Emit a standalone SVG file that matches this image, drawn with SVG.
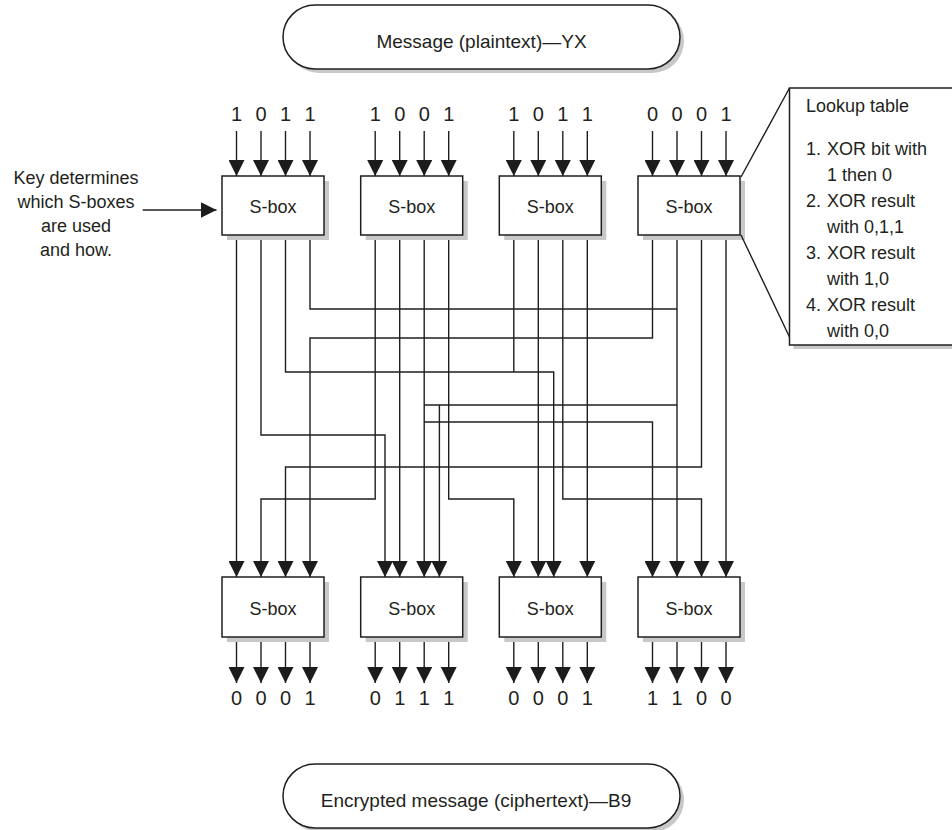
<svg xmlns="http://www.w3.org/2000/svg" width="952" height="830" viewBox="0 0 952 830">
<defs>
<marker id="ah" viewBox="0 0 16 16" markerWidth="16" markerHeight="16" refX="16" refY="8" orient="auto" markerUnits="userSpaceOnUse"><path d="M0,0 L16,8 L0,16 Z" fill="#1c1c1c"/></marker>
</defs>
<style>
.w{fill:none;stroke:#1f1f1f;stroke-width:1.4}
.a{marker-end:url(#ah)}
.box{fill:#fff;stroke:#1f1f1f;stroke-width:1.5}
.sh{fill:#c8c8c8}
.t{font-family:"Liberation Sans",Arial,sans-serif;font-size:18px;fill:#231f20}
.p{font-size:19px}
.m{text-anchor:middle}
.bit{font-family:"Liberation Sans",Arial,sans-serif;font-size:20px;fill:#231f20;text-anchor:middle}
</style>
<rect width="952" height="830" fill="#fff"/>

<g id="connectors">
<!-- input arrows -->
<path class="w a" d="M236.5,131V176"/><path class="w a" d="M261,131V176"/><path class="w a" d="M285.5,131V176"/><path class="w a" d="M310,131V176"/>
<path class="w a" d="M375.2,131V176"/><path class="w a" d="M399.7,131V176"/><path class="w a" d="M424.2,131V176"/><path class="w a" d="M448.7,131V176"/>
<path class="w a" d="M513.8,131V176"/><path class="w a" d="M538.3,131V176"/><path class="w a" d="M562.8,131V176"/><path class="w a" d="M587.3,131V176"/>
<path class="w a" d="M652.5,131V176"/><path class="w a" d="M677,131V176"/><path class="w a" d="M701.5,131V176"/><path class="w a" d="M726,131V176"/>
<!-- permutation wiring -->
<path class="w a" d="M236.5,235V577"/>
<path class="w a" d="M261,235V435H385V577"/>
<path class="w a" d="M285.5,235V372H553.7V577"/>
<path class="w" d="M310,235V309H677"/>
<path class="w a" d="M375.2,235V499H261V577"/>
<path class="w a" d="M399.7,235V577"/>
<path class="w a" d="M424.2,235V577"/>
<path class="w a" d="M448.7,235V499H513.8V577"/>
<path class="w" d="M513.8,235V372"/>
<path class="w a" d="M538.3,235V577"/>
<path class="w a" d="M562.8,235V499H701.5V577"/>
<path class="w a" d="M587.3,235V577"/>
<path class="w a" d="M652.5,235V338H310V577"/>
<path class="w a" d="M677,235V577"/>
<path class="w a" d="M701.5,235V467H285.5V577"/>
<path class="w a" d="M726,235V577"/>
<path class="w" d="M677,405H424.2"/>
<path class="w a" d="M439.4,405V577"/>
<path class="w a" d="M424.2,422H652.5V577"/>
<!-- output arrows -->
<path class="w a" d="M236.5,637V683"/><path class="w a" d="M261,637V683"/><path class="w a" d="M285.5,637V683"/><path class="w a" d="M310,637V683"/>
<path class="w a" d="M375.2,637V683"/><path class="w a" d="M399.7,637V683"/><path class="w a" d="M424.2,637V683"/><path class="w a" d="M448.7,637V683"/>
<path class="w a" d="M513.8,637V683"/><path class="w a" d="M538.3,637V683"/><path class="w a" d="M562.8,637V683"/><path class="w a" d="M587.3,637V683"/>
<path class="w a" d="M652.5,637V683"/><path class="w a" d="M677,637V683"/><path class="w a" d="M701.5,637V683"/><path class="w a" d="M726,637V683"/>
<!-- key arrow -->
<path class="w a" d="M142.7,210H216.5"/>
</g>

<g id="plaintext">
<rect class="sh" x="287" y="9" width="397" height="64" rx="32"/>
<rect class="box" x="283" y="5" width="397" height="64" rx="32"/>
<text class="t p m" x="481.5" y="48">Message (plaintext)—YX</text>
</g>

<g id="ciphertext">
<rect class="sh" x="287" y="768" width="397" height="64" rx="32"/>
<rect class="box" x="283" y="764" width="397" height="64" rx="32"/>
<text class="t p m" x="476" y="807">Encrypted message (ciphertext)—B9</text>
</g>

<g id="input-bits">
<text class="bit" x="236.5" y="120.5">1</text><text class="bit" x="261" y="120.5">0</text><text class="bit" x="285.5" y="120.5">1</text><text class="bit" x="310" y="120.5">1</text>
<text class="bit" x="375.2" y="120.5">1</text><text class="bit" x="399.7" y="120.5">0</text><text class="bit" x="424.2" y="120.5">0</text><text class="bit" x="448.7" y="120.5">1</text>
<text class="bit" x="513.8" y="120.5">1</text><text class="bit" x="538.3" y="120.5">0</text><text class="bit" x="562.8" y="120.5">1</text><text class="bit" x="587.3" y="120.5">1</text>
<text class="bit" x="652.5" y="120.5">0</text><text class="bit" x="677" y="120.5">0</text><text class="bit" x="701.5" y="120.5">0</text><text class="bit" x="726" y="120.5">1</text>
</g>

<g id="sbox-top-1"><rect class="sh" x="227" y="181" width="102" height="59"/><rect class="box" x="222" y="176" width="102" height="59"/><text class="t m" x="273" y="213">S-box</text></g>
<g id="sbox-top-2"><rect class="sh" x="365.7" y="181" width="102" height="59"/><rect class="box" x="360.7" y="176" width="102" height="59"/><text class="t m" x="411.7" y="213">S-box</text></g>
<g id="sbox-top-3"><rect class="sh" x="504.3" y="181" width="102" height="59"/><rect class="box" x="499.3" y="176" width="102" height="59"/><text class="t m" x="550.3" y="213">S-box</text></g>
<g id="sbox-top-4"><rect class="sh" x="643" y="181" width="102" height="59"/><rect class="box" x="638" y="176" width="102" height="59"/><text class="t m" x="689" y="213">S-box</text></g>

<g id="sbox-bottom-1"><rect class="sh" x="227" y="582" width="102" height="60"/><rect class="box" x="222" y="577" width="102" height="60"/><text class="t m" x="273" y="615">S-box</text></g>
<g id="sbox-bottom-2"><rect class="sh" x="365.7" y="582" width="102" height="60"/><rect class="box" x="360.7" y="577" width="102" height="60"/><text class="t m" x="411.7" y="615">S-box</text></g>
<g id="sbox-bottom-3"><rect class="sh" x="504.3" y="582" width="102" height="60"/><rect class="box" x="499.3" y="577" width="102" height="60"/><text class="t m" x="550.3" y="615">S-box</text></g>
<g id="sbox-bottom-4"><rect class="sh" x="643" y="582" width="102" height="60"/><rect class="box" x="638" y="577" width="102" height="60"/><text class="t m" x="689" y="615">S-box</text></g>

<g id="output-bits">
<text class="bit" x="236.5" y="705">0</text><text class="bit" x="261" y="705">0</text><text class="bit" x="285.5" y="705">0</text><text class="bit" x="310" y="705">1</text>
<text class="bit" x="375.2" y="705">0</text><text class="bit" x="399.7" y="705">1</text><text class="bit" x="424.2" y="705">1</text><text class="bit" x="448.7" y="705">1</text>
<text class="bit" x="513.8" y="705">0</text><text class="bit" x="538.3" y="705">0</text><text class="bit" x="562.8" y="705">0</text><text class="bit" x="587.3" y="705">1</text>
<text class="bit" x="652.5" y="705">1</text><text class="bit" x="677" y="705">1</text><text class="bit" x="701.5" y="705">0</text><text class="bit" x="726" y="705">0</text>
</g>

<g id="key-note">
<text class="t m" x="76" y="184">Key determines</text>
<text class="t m" x="76" y="208">which S-boxes</text>
<text class="t m" x="76" y="232">are used</text>
<text class="t m" x="76" y="256">and how.</text>
</g>

<g id="lookup-table">
<path class="w" d="M741,177L789.5,88M741,235L789.5,337"/>
<rect class="sh" x="793.5" y="92" width="200" height="257"/>
<rect class="box" x="789.5" y="88" width="200" height="257"/>
<text class="t" x="806" y="112">Lookup table</text>
<text class="t" x="806" y="155">1.</text><text class="t" x="827" y="155">XOR bit with</text>
<text class="t" x="827" y="181">1 then 0</text>
<text class="t" x="806" y="207">2.</text><text class="t" x="827" y="207">XOR result</text>
<text class="t" x="827" y="233">with 0,1,1</text>
<text class="t" x="806" y="259">3.</text><text class="t" x="827" y="259">XOR result</text>
<text class="t" x="827" y="285">with 1,0</text>
<text class="t" x="806" y="311">4.</text><text class="t" x="827" y="311">XOR result</text>
<text class="t" x="827" y="337">with 0,0</text>
</g>
</svg>
